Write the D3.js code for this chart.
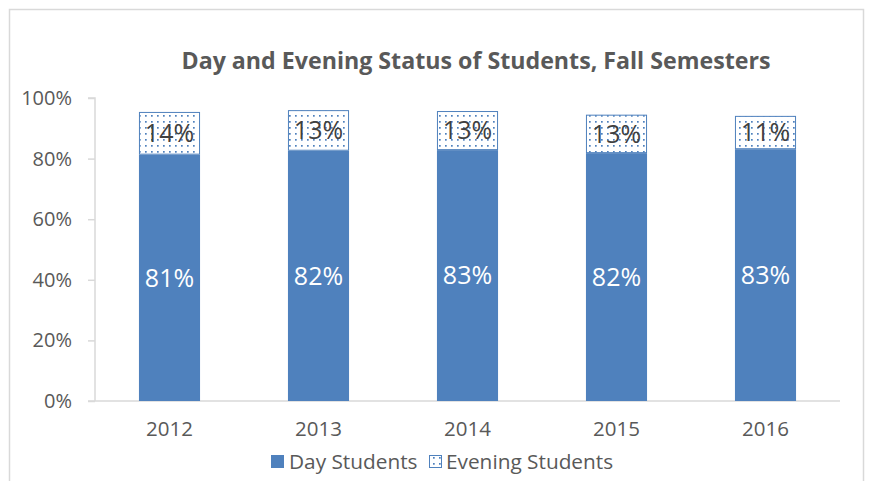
<!DOCTYPE html>
<html><head><meta charset="utf-8">
<script src="https://cdn.jsdelivr.net/npm/d3@7"></script>
<style>body{margin:0;background:#fff}svg{display:block}</style>
</head><body>
<script>
const categories = ["2012","2013","2014","2015","2016"];
const dayValues = [81.3, 82.6, 82.8, 81.8, 83.1];
const eveningValues = [14.1, 13.4, 12.9, 12.7, 11.0];
const dayLabels = ["81%","82%","83%","82%","83%"];
const eveningLabels = ["14%","13%","13%","13%","11%"];
const yTicks = [0,20,40,60,80,100];
const seriesNames = ["Day Students","Evening Students"];
const title = "Day and Evening Status of Students, Fall Semesters";

const W=869,H=481;
const font="'Open Sans', 'Liberation Sans', sans-serif";
const svg=d3.select("body").append("svg").attr("width",W).attr("height",H);
const defs=svg.append("defs");
const pat=defs.append("pattern").attr("id","dots").attr("patternUnits","userSpaceOnUse")
  .attr("width",6).attr("height",6);
pat.append("rect").attr("width",6).attr("height",6).attr("fill","#fff");
pat.append("rect").attr("x",1).attr("y",1).attr("width",1.7).attr("height",1.7).attr("fill","#4f81bd");

// border
svg.append("rect").attr("x",9.5).attr("y",9.5).attr("width",854).attr("height",480)
  .attr("fill","#fff").attr("stroke","#d9d9d9").attr("stroke-width",1.5);

const x0=95,x1=840,yTop=98,yBot=401;
const x=d3.scaleBand().domain(categories).range([x0,x1]).paddingInner(0.59).paddingOuter(0.295);
const y=d3.scaleLinear().domain([0,100]).range([yBot,yTop]);

svg.append("text").attr("x",476).attr("y",69).attr("text-anchor","middle")
  .attr("font-family",font).attr("font-weight","bold").attr("font-size",23.2).attr("fill","#595959").text(title);

// y axis
const yAxis=svg.append("g").attr("transform",`translate(${x0},0)`)
  .call(d3.axisLeft(y).tickValues(yTicks).tickFormat(d=>d+"%").tickSize(7).tickPadding(16));
yAxis.select(".domain").attr("stroke","#d9d9d9").attr("stroke-width",1.5).attr("d",`M-7,${yTop}H0V${yBot}`);
yAxis.selectAll(".tick line").attr("stroke","#d9d9d9").attr("stroke-width",1.5);
yAxis.selectAll("text").attr("font-family",font).attr("font-size",20).attr("fill","#595959");

// x axis
const xAxis=svg.append("g").attr("transform",`translate(0,${yBot})`)
  .call(d3.axisBottom(x).tickSize(0).tickPadding(20));
xAxis.select(".domain").attr("stroke","#d9d9d9").attr("stroke-width",1.5).attr("d",`M${x0-7},0H${x1}`);
xAxis.selectAll("text").attr("font-family",font).attr("font-size",20.5).attr("fill","#595959");

const g=svg.append("g");
categories.forEach((c,i)=>{
  const d=dayValues[i],e=eveningValues[i];
  g.append("rect").attr("x",x(c)).attr("width",x.bandwidth()).attr("y",y(d)).attr("height",y(0)-y(d)).attr("fill","#4f81bd");
  g.append("rect").attr("x",x(c)+0.5).attr("width",x.bandwidth()-1).attr("y",y(d+e)+0.5).attr("height",y(d)-y(d+e)-1)
    .attr("fill","url(#dots)").attr("stroke","#4f81bd").attr("stroke-width",1);
  g.append("text").attr("x",x(c)+x.bandwidth()/2).attr("y",y(d/2)).attr("dy","0.35em").attr("text-anchor","middle")
    .attr("font-family",font).attr("font-size",25).attr("fill","#fff").text(dayLabels[i]);
  g.append("text").attr("x",x(c)+x.bandwidth()/2).attr("y",y(d+e/2)).attr("dy","0.35em").attr("text-anchor","middle")
    .attr("font-family",font).attr("font-size",25).attr("fill","#404040").text(eveningLabels[i]);
});

// legend
const lg=svg.append("g");
lg.append("rect").attr("x",271).attr("y",455).attr("width",13).attr("height",13).attr("fill","#4f81bd");
lg.append("text").attr("x",289).attr("y",462).attr("dy","0.35em").attr("font-family",font).attr("font-size",20.8).attr("fill","#595959").text(seriesNames[0]);
lg.append("rect").attr("x",429.5).attr("y",455.5).attr("width",12).attr("height",12).attr("fill","url(#dots)").attr("stroke","#4f81bd");
lg.append("text").attr("x",446).attr("y",462).attr("dy","0.35em").attr("font-family",font).attr("font-size",20.8).attr("fill","#595959").text(seriesNames[1]);
</script>
</body></html>
